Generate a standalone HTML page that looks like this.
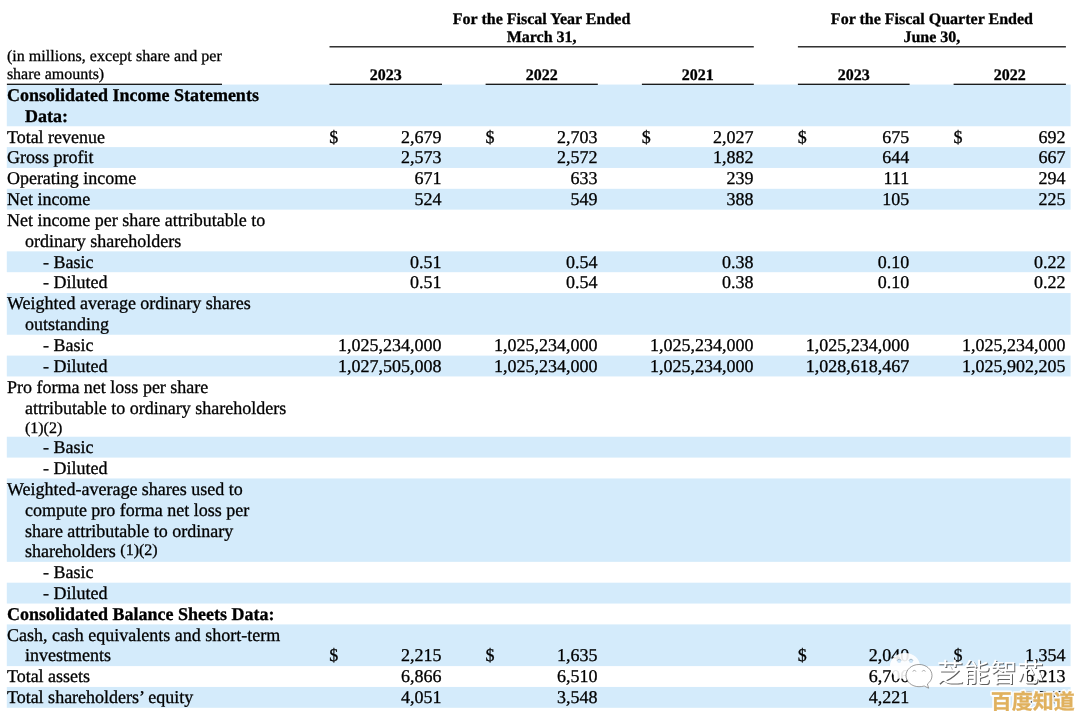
<!DOCTYPE html>
<html><head><meta charset="utf-8"><title>Financial data</title>
<style>
html,body{margin:0;padding:0;background:#fff;overflow:hidden;}
body{width:1080px;height:720px;position:relative;overflow:hidden;font-family:"Liberation Serif",serif;color:#000;}
.t{position:absolute;white-space:nowrap;line-height:20px;height:20px;-webkit-text-stroke:0.3px #000;}
.h{position:absolute;background:#111;}
.b{position:absolute;left:6.8px;width:1063.80px;background:#d4ebfb;}
#w{position:absolute;left:0;top:0;width:1080px;height:720px;will-change:transform;text-rendering:geometricPrecision;overflow:hidden;}
</style></head><body><div id="w">
<svg width="1080" height="720" viewBox="0 0 1080 720" style="position:absolute;left:0;top:0"><rect x="6.8" y="84.55" width="1063.80" height="41.70" fill="#d4ebfb"/><rect x="6.8" y="147.10" width="1063.80" height="20.85" fill="#d4ebfb"/><rect x="6.8" y="188.80" width="1063.80" height="20.85" fill="#d4ebfb"/><rect x="6.8" y="251.35" width="1063.80" height="20.85" fill="#d4ebfb"/><rect x="6.8" y="293.05" width="1063.80" height="41.70" fill="#d4ebfb"/><rect x="6.8" y="355.60" width="1063.80" height="20.85" fill="#d4ebfb"/><rect x="6.8" y="436.75" width="1063.80" height="20.85" fill="#d4ebfb"/><rect x="6.8" y="478.45" width="1063.80" height="83.40" fill="#d4ebfb"/><rect x="6.8" y="582.70" width="1063.80" height="20.85" fill="#d4ebfb"/><rect x="6.8" y="624.40" width="1063.80" height="41.70" fill="#d4ebfb"/><rect x="6.8" y="686.95" width="1063.80" height="20.85" fill="#d4ebfb"/><rect x="329.50" y="46.15" width="424.30" height="1.3" fill="#111"/><rect x="797.90" y="46.15" width="268.00" height="1.3" fill="#111"/><rect x="6.90" y="83.65" width="215.10" height="1.3" fill="#111"/><rect x="329.50" y="83.65" width="112.50" height="1.3" fill="#111"/><rect x="485.60" y="83.65" width="112.20" height="1.3" fill="#111"/><rect x="641.90" y="83.65" width="111.90" height="1.3" fill="#111"/><rect x="797.90" y="83.65" width="111.70" height="1.3" fill="#111"/><rect x="953.60" y="83.65" width="112.30" height="1.3" fill="#111"/></svg>
<div class="t" style="top:10px;font-size:16px;font-weight:bold;left:421.60px;width:240px;text-align:center;">For the Fiscal Year Ended</div>
<div class="t" style="top:28px;font-size:16px;font-weight:bold;left:421.60px;width:240px;text-align:center;">March 31,</div>
<div class="t" style="top:10px;font-size:16px;font-weight:bold;left:811.90px;width:240px;text-align:center;">For the Fiscal Quarter Ended</div>
<div class="t" style="top:28px;font-size:16px;font-weight:bold;left:811.90px;width:240px;text-align:center;">June 30,</div>
<div class="t" style="top:47px;font-size:16px;left:6.90px;"><span style="letter-spacing:0.05px">(in millions, except share and per</span></div>
<div class="t" style="top:65px;font-size:16px;left:6.90px;">share amounts)</div>
<div class="t" style="top:66px;font-size:16px;font-weight:bold;left:335.75px;width:100px;text-align:center;">2023</div>
<div class="t" style="top:66px;font-size:16px;font-weight:bold;left:491.70px;width:100px;text-align:center;">2022</div>
<div class="t" style="top:66px;font-size:16px;font-weight:bold;left:647.85px;width:100px;text-align:center;">2021</div>
<div class="t" style="top:66px;font-size:16px;font-weight:bold;left:803.75px;width:100px;text-align:center;">2023</div>
<div class="t" style="top:66px;font-size:16px;font-weight:bold;left:959.75px;width:100px;text-align:center;">2022</div>
<div class="t" style="top:85px;font-size:18px;font-weight:bold;left:6.90px;">Consolidated Income Statements</div>
<div class="t" style="top:106px;font-size:18px;font-weight:bold;left:24.90px;">Data:</div>
<div class="t" style="top:127px;font-size:18px;left:6.90px;">Total revenue</div>
<div class="t" style="top:127px;font-size:18px;right:638.40px;text-align:right;">2,679</div>
<div class="t" style="top:127px;font-size:18px;left:329.30px;">$</div>
<div class="t" style="top:127px;font-size:18px;right:482.60px;text-align:right;">2,703</div>
<div class="t" style="top:127px;font-size:18px;left:485.40px;">$</div>
<div class="t" style="top:127px;font-size:18px;right:326.60px;text-align:right;">2,027</div>
<div class="t" style="top:127px;font-size:18px;left:641.70px;">$</div>
<div class="t" style="top:127px;font-size:18px;right:170.80px;text-align:right;">675</div>
<div class="t" style="top:127px;font-size:18px;left:797.70px;">$</div>
<div class="t" style="top:127px;font-size:18px;right:14.50px;text-align:right;">692</div>
<div class="t" style="top:127px;font-size:18px;left:953.40px;">$</div>
<div class="t" style="top:147px;font-size:18px;left:6.90px;">Gross profit</div>
<div class="t" style="top:147px;font-size:18px;right:638.40px;text-align:right;">2,573</div>
<div class="t" style="top:147px;font-size:18px;right:482.60px;text-align:right;">2,572</div>
<div class="t" style="top:147px;font-size:18px;right:326.60px;text-align:right;">1,882</div>
<div class="t" style="top:147px;font-size:18px;right:170.80px;text-align:right;">644</div>
<div class="t" style="top:147px;font-size:18px;right:14.50px;text-align:right;">667</div>
<div class="t" style="top:168px;font-size:18px;left:6.90px;">Operating income</div>
<div class="t" style="top:168px;font-size:18px;right:638.40px;text-align:right;">671</div>
<div class="t" style="top:168px;font-size:18px;right:482.60px;text-align:right;">633</div>
<div class="t" style="top:168px;font-size:18px;right:326.60px;text-align:right;">239</div>
<div class="t" style="top:168px;font-size:18px;right:170.80px;text-align:right;">111</div>
<div class="t" style="top:168px;font-size:18px;right:14.50px;text-align:right;">294</div>
<div class="t" style="top:189px;font-size:18px;left:6.90px;">Net income</div>
<div class="t" style="top:189px;font-size:18px;right:638.40px;text-align:right;">524</div>
<div class="t" style="top:189px;font-size:18px;right:482.60px;text-align:right;">549</div>
<div class="t" style="top:189px;font-size:18px;right:326.60px;text-align:right;">388</div>
<div class="t" style="top:189px;font-size:18px;right:170.80px;text-align:right;">105</div>
<div class="t" style="top:189px;font-size:18px;right:14.50px;text-align:right;">225</div>
<div class="t" style="top:210px;font-size:18px;left:6.90px;">Net income per share attributable to</div>
<div class="t" style="top:231px;font-size:18px;left:24.90px;">ordinary shareholders</div>
<div class="t" style="top:252px;font-size:18px;left:42.90px;">- Basic</div>
<div class="t" style="top:252px;font-size:18px;right:638.40px;text-align:right;">0.51</div>
<div class="t" style="top:252px;font-size:18px;right:482.60px;text-align:right;">0.54</div>
<div class="t" style="top:252px;font-size:18px;right:326.60px;text-align:right;">0.38</div>
<div class="t" style="top:252px;font-size:18px;right:170.80px;text-align:right;">0.10</div>
<div class="t" style="top:252px;font-size:18px;right:14.50px;text-align:right;">0.22</div>
<div class="t" style="top:272px;font-size:18px;left:42.90px;">- Diluted</div>
<div class="t" style="top:272px;font-size:18px;right:638.40px;text-align:right;">0.51</div>
<div class="t" style="top:272px;font-size:18px;right:482.60px;text-align:right;">0.54</div>
<div class="t" style="top:272px;font-size:18px;right:326.60px;text-align:right;">0.38</div>
<div class="t" style="top:272px;font-size:18px;right:170.80px;text-align:right;">0.10</div>
<div class="t" style="top:272px;font-size:18px;right:14.50px;text-align:right;">0.22</div>
<div class="t" style="top:293px;font-size:18px;left:6.90px;">Weighted average ordinary shares</div>
<div class="t" style="top:314px;font-size:18px;left:24.90px;">outstanding</div>
<div class="t" style="top:335px;font-size:18px;left:42.90px;">- Basic</div>
<div class="t" style="top:335px;font-size:18px;right:638.40px;text-align:right;">1,025,234,000</div>
<div class="t" style="top:335px;font-size:18px;right:482.60px;text-align:right;">1,025,234,000</div>
<div class="t" style="top:335px;font-size:18px;right:326.60px;text-align:right;">1,025,234,000</div>
<div class="t" style="top:335px;font-size:18px;right:170.80px;text-align:right;">1,025,234,000</div>
<div class="t" style="top:335px;font-size:18px;right:14.50px;text-align:right;">1,025,234,000</div>
<div class="t" style="top:356px;font-size:18px;left:42.90px;">- Diluted</div>
<div class="t" style="top:356px;font-size:18px;right:638.40px;text-align:right;">1,027,505,008</div>
<div class="t" style="top:356px;font-size:18px;right:482.60px;text-align:right;">1,025,234,000</div>
<div class="t" style="top:356px;font-size:18px;right:326.60px;text-align:right;">1,025,234,000</div>
<div class="t" style="top:356px;font-size:18px;right:170.80px;text-align:right;">1,028,618,467</div>
<div class="t" style="top:356px;font-size:18px;right:14.50px;text-align:right;">1,025,902,205</div>
<div class="t" style="top:377px;font-size:18px;left:6.90px;">Pro forma net loss per share</div>
<div class="t" style="top:398px;font-size:18px;left:24.90px;">attributable to ordinary shareholders</div>
<div class="t" style="top:419px;font-size:16px;left:24.90px;">(1)(2)</div>
<div class="t" style="top:437px;font-size:18px;left:42.90px;">- Basic</div>
<div class="t" style="top:458px;font-size:18px;left:42.90px;">- Diluted</div>
<div class="t" style="top:479px;font-size:18px;left:6.90px;">Weighted-average shares used to</div>
<div class="t" style="top:500px;font-size:18px;left:24.90px;">compute pro forma net loss per</div>
<div class="t" style="top:521px;font-size:18px;left:24.90px;">share attributable to ordinary</div>
<div class="t" style="top:541px;font-size:18px;left:24.90px;">shareholders <span style="font-size:16px;position:relative;top:-2px">(1)(2)</span></div>
<div class="t" style="top:562px;font-size:18px;left:42.90px;">- Basic</div>
<div class="t" style="top:583px;font-size:18px;left:42.90px;">- Diluted</div>
<div class="t" style="top:604px;font-size:18px;font-weight:bold;left:6.90px;">Consolidated Balance Sheets Data:</div>
<div class="t" style="top:625px;font-size:18px;left:6.90px;">Cash, cash equivalents and short-term</div>
<div class="t" style="top:645px;font-size:18px;left:24.90px;">investments</div>
<div class="t" style="top:645px;font-size:18px;right:638.40px;text-align:right;">2,215</div>
<div class="t" style="top:645px;font-size:18px;left:329.30px;">$</div>
<div class="t" style="top:645px;font-size:18px;right:482.60px;text-align:right;">1,635</div>
<div class="t" style="top:645px;font-size:18px;left:485.40px;">$</div>
<div class="t" style="top:645px;font-size:18px;right:170.80px;text-align:right;">2,040</div>
<div class="t" style="top:645px;font-size:18px;left:797.70px;">$</div>
<div class="t" style="top:645px;font-size:18px;right:14.50px;text-align:right;">1,354</div>
<div class="t" style="top:645px;font-size:18px;left:953.40px;">$</div>
<div class="t" style="top:666px;font-size:18px;left:6.90px;">Total assets</div>
<div class="t" style="top:666px;font-size:18px;right:638.40px;text-align:right;">6,866</div>
<div class="t" style="top:666px;font-size:18px;right:482.60px;text-align:right;">6,510</div>
<div class="t" style="top:666px;font-size:18px;right:170.80px;text-align:right;">6,706</div>
<div class="t" style="top:666px;font-size:18px;right:14.50px;text-align:right;">6,213</div>
<div class="t" style="top:687px;font-size:18px;left:6.90px;">Total shareholders’ equity</div>
<div class="t" style="top:687px;font-size:18px;right:638.40px;text-align:right;">4,051</div>
<div class="t" style="top:687px;font-size:18px;right:482.60px;text-align:right;">3,548</div>
<div class="t" style="top:687px;font-size:18px;right:170.80px;text-align:right;">4,221</div>
<div class="t" style="top:687px;font-size:18px;right:14.50px;text-align:right;">3,545</div>
<svg width="1080" height="720" viewBox="0 0 1080 720" style="position:absolute;left:0;top:0">
<g>
<path d="M905 653 C913.5 653 920 658.8 920 666 C920 673.2 913.5 679 905 679 C903 679 901.2 678.7 899.5 678.2 L894.5 681 L895.8 676.6 C892.2 674.2 890 670.4 890 666 C890 658.8 896.5 653 905 653 Z" fill="#fff" fill-opacity="0.9"/>
<circle cx="899.2" cy="661" r="2" fill="#cfe6f8"/><circle cx="911" cy="661" r="2" fill="#cfe6f8"/>
<path d="M897.3 660.6 A2 2 0 0 1 901.1 660.6" fill="none" stroke="#8aa0b0" stroke-width="0.7"/><path d="M909.1 660.6 A2 2 0 0 1 912.9 660.6" fill="none" stroke="#8aa0b0" stroke-width="0.7"/>
<path d="M919 664.5 C926.2 664.5 932 669.4 932 675.6 C932 679 930.2 682 927.4 684 L928.6 688.2 L924.2 686 C922.6 686.5 920.8 686.7 919 686.7 C911.8 686.7 906 681.8 906 675.6 C906 669.4 911.8 664.5 919 664.5 Z" fill="#fff" fill-opacity="0.96" stroke="#5a5a5a" stroke-opacity="0.75" stroke-width="0.8"/>
<path d="M912.8 671.6 A1.6 1.6 0 0 1 915.9 671.6" fill="none" stroke="#999" stroke-width="0.8"/><path d="M922.2 671.6 A1.6 1.6 0 0 1 925.3 671.6" fill="none" stroke="#999" stroke-width="0.8"/>
</g>
<text x="937.80 964.60 991.40 1018.20" y="682.60" font-family="'Liberation Sans','Noto Sans CJK SC',sans-serif" font-size="26.5" fill="#3a3a3a" fill-opacity="0.8">芝能智芯</text>
<text x="936.80 963.60 990.40 1017.20" y="681.60" font-family="'Liberation Sans','Noto Sans CJK SC',sans-serif" font-size="26.5" fill="#fff">芝能智芯</text>
<text x="990.80 1011.80 1032.80 1053.80" y="708.90" font-family="'Liberation Sans','Noto Sans CJK SC',sans-serif" font-size="21" font-weight="bold" fill="#fff" stroke="#fff" stroke-width="3.57" stroke-linejoin="round" opacity="0.93">百度知道</text>
<text x="990.80 1011.80 1032.80 1053.80" y="708.90" font-family="'Liberation Sans','Noto Sans CJK SC',sans-serif" font-size="21" font-weight="bold" fill="#e0b15e" stroke="#e0b15e" stroke-width="0.29">百度知道</text>
</svg>
</div></body></html>
